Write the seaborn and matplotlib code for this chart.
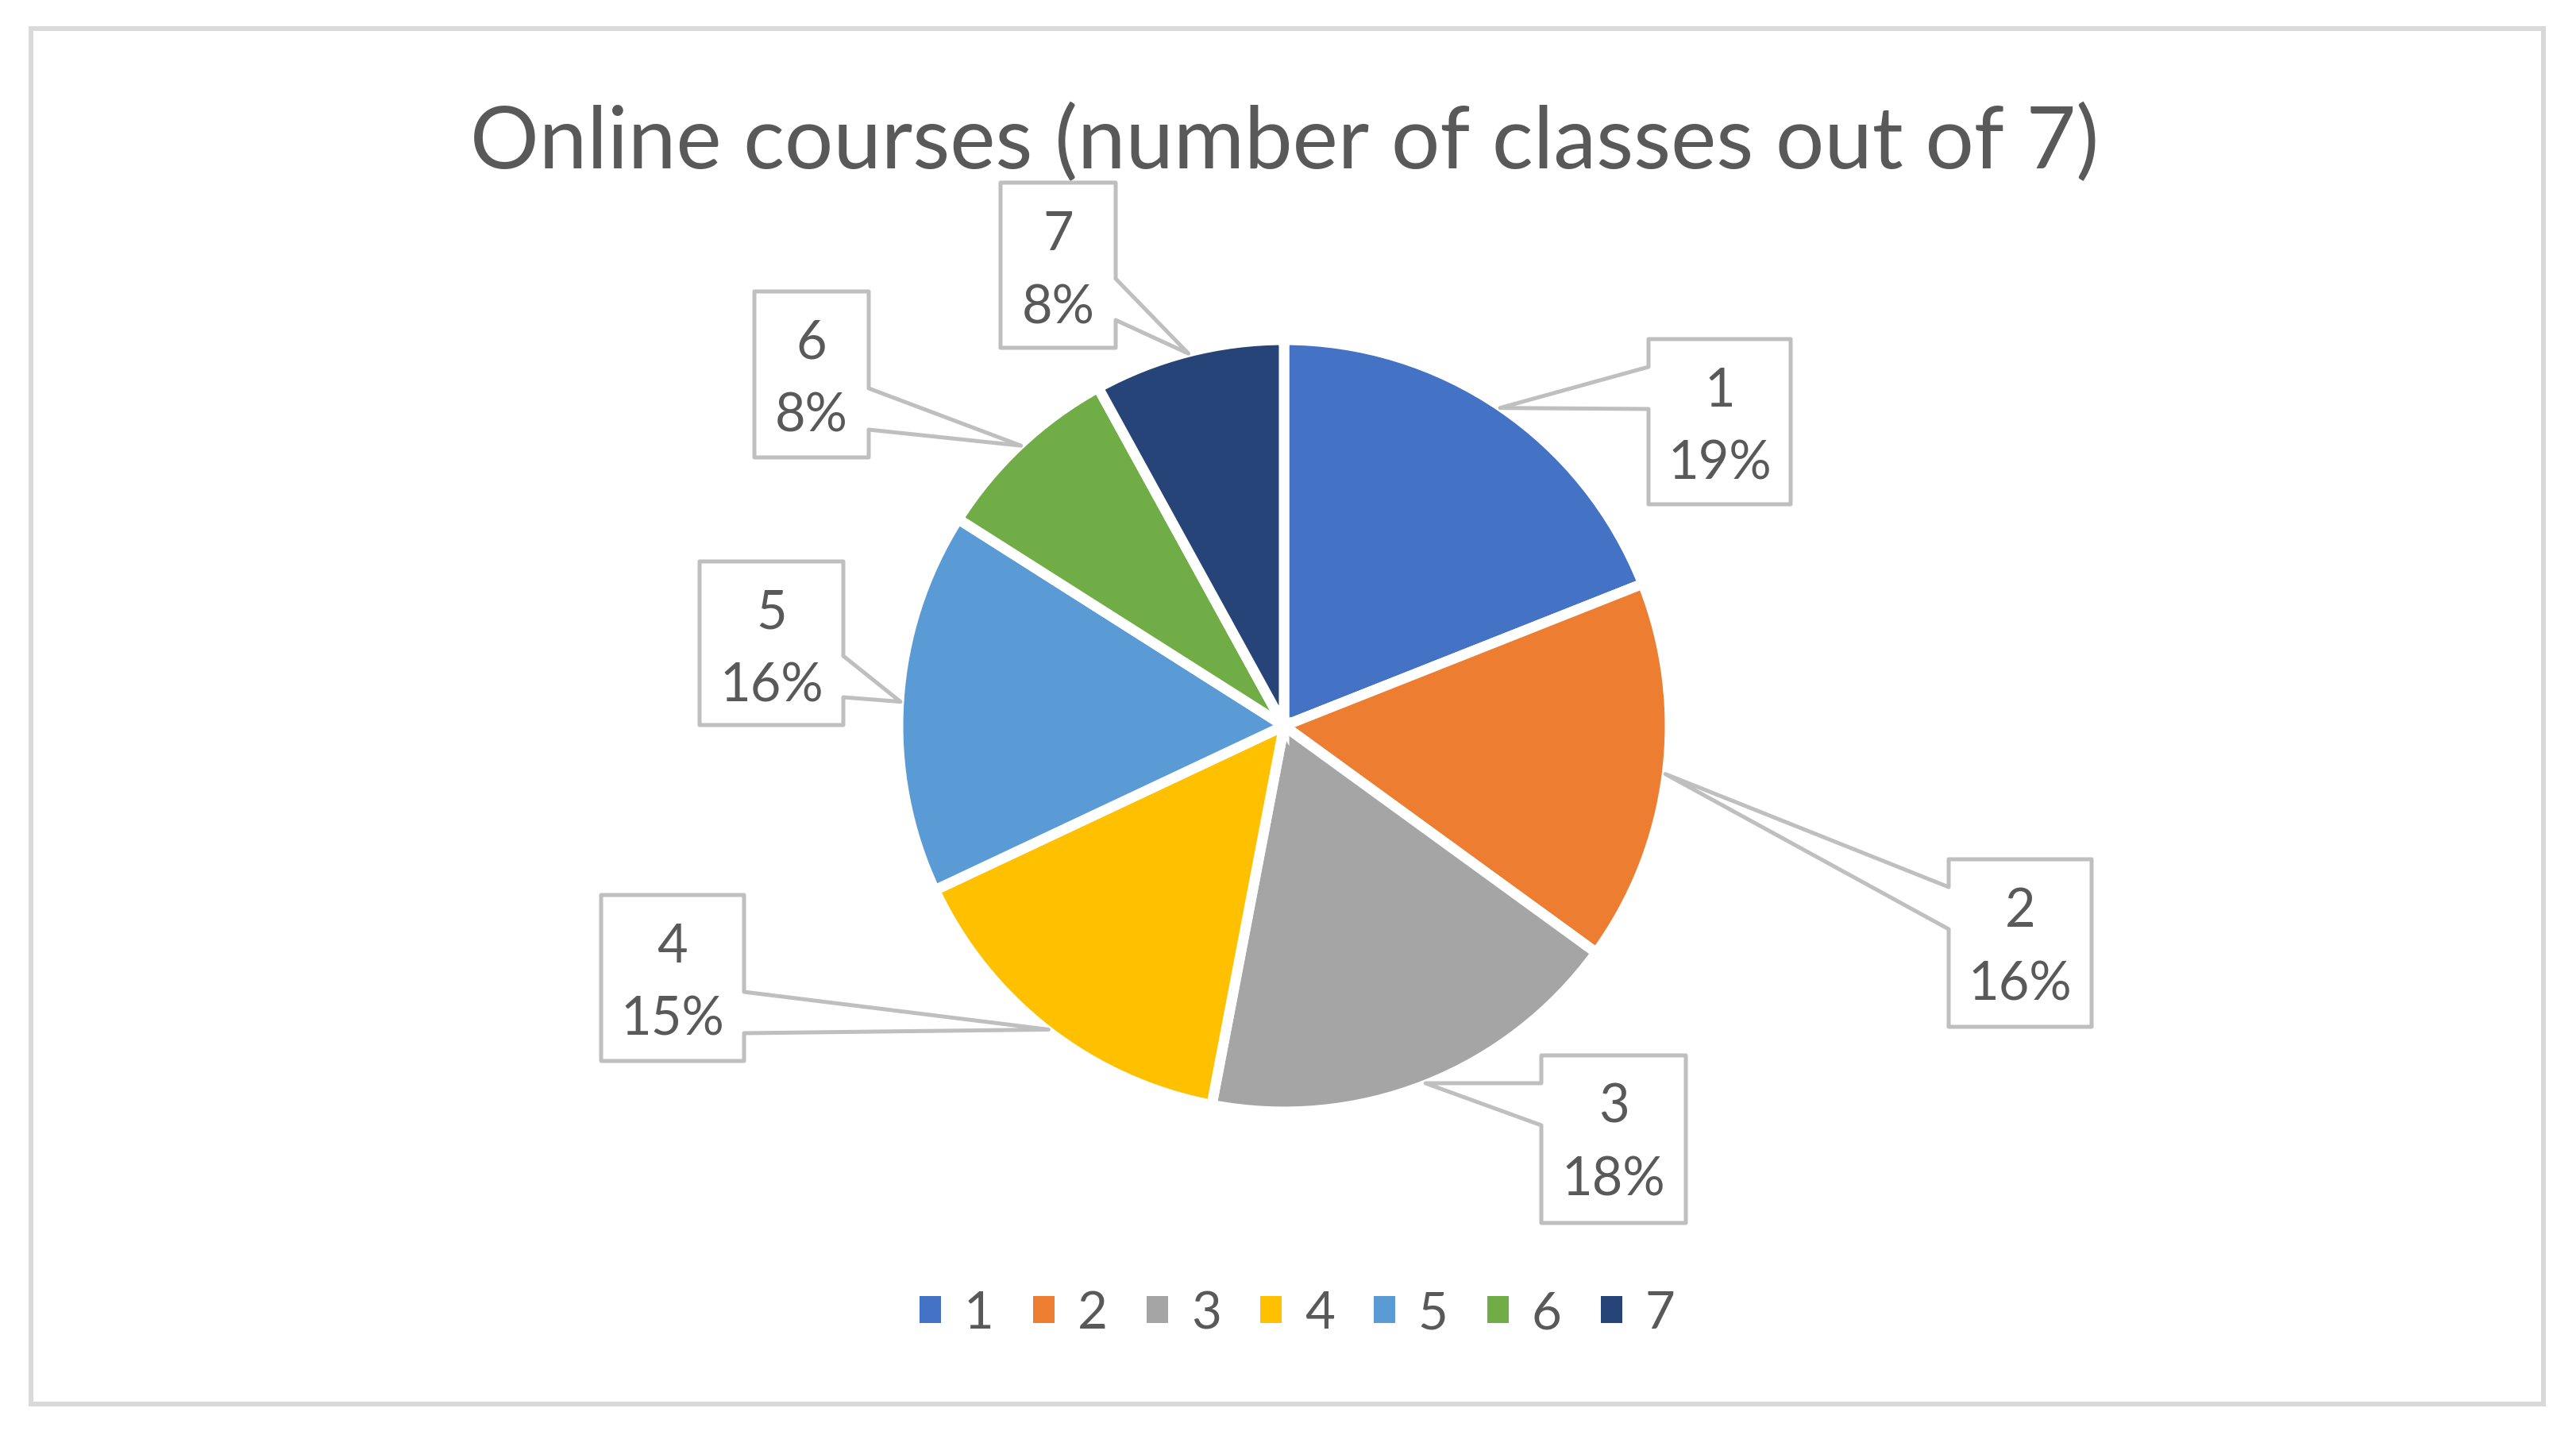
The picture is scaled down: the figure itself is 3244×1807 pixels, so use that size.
import seaborn as sns
import matplotlib.pyplot as plt
from matplotlib.patches import Polygon, Rectangle, Patch
import numpy as np

# data
categories = ['1', '2', '3', '4', '5', '6', '7']
shares = [19, 16, 18, 15, 16, 8, 8]
pct_labels = ['19%', '16%', '18%', '15%', '16%', '8%', '8%']
title = 'Online courses (number of classes out of 7)'

office_colors = ['#4472C4', '#ED7D31', '#A5A5A5', '#FFC000', '#5B9BD5', '#70AD47', '#264478']

# callout boxes in picture pixels: left, top, right, bottom, side of leader, end of side
boxes = [
    (2076, 428, 2255, 636, 'l', 'top'),
    (2454, 1083, 2634, 1294, 'l', 'top'),
    (1941, 1330, 2123, 1541, 'l', 'top'),
    (757, 1128, 937, 1337, 'r', 'bottom'),
    (881, 708, 1062, 914, 'r', 'bottom'),
    (950, 368, 1094, 577, 'r', 'bottom'),
    (1260, 231, 1405, 439, 'r', 'bottom'),
]

W, H = 3244, 1808
sns.set_theme(style='white')
plt.rcParams['font.family'] = ['Lato', 'DejaVu Sans']
text_color = '#595959'
edge_gray = '#BFBFBF'


def Y(y):
    return H - y


fig = plt.figure(figsize=(W / 100, H / 100), dpi=100)
ax = fig.add_axes([0, 0, 1, 1])

cx, cy, R = 1617, 915, 486
palette = sns.color_palette(office_colors)
wedges, _ = ax.pie(shares, colors=palette, startangle=90, counterclock=False,
                   center=(cx, Y(cy)), radius=R,
                   wedgeprops=dict(edgecolor='white', linewidth=9.4))

ax.set_xlim(0, W)
ax.set_ylim(0, H)
ax.set_aspect('equal')
ax.axis('off')

# outer chart frame
ax.add_patch(Rectangle((39, Y(1769)), 3164, 1732, fill=False, edgecolor='#D9D9D9',
                       linewidth=4.3, zorder=1))

# callouts
for w, cat, pct, (x0, t, x1, b, side, end) in zip(wedges, categories, pct_labels, boxes):
    ang = np.deg2rad((w.theta1 + w.theta2) / 2)
    tip = (cx + (R - 2) * np.cos(ang), Y(cy) + (R - 2) * np.sin(ang))
    if end == 'top':
        a1, a2 = t + 35, t + 88
    else:
        a1, a2 = b - 87, b - 35
    if side == 'l':
        pts = [(x0, t), (x1, t), (x1, b), (x0, b), (x0, a2)]
        pts = [(x, Y(y)) for x, y in pts] + [tip, (x0, Y(a1))]
    else:
        pts = [(x0, t), (x1, t), (x1, a1)]
        pts = [(x, Y(y)) for x, y in pts] + [tip] + [(x, Y(y)) for x, y in [(x1, a2), (x1, b), (x0, b)]]
    ax.add_patch(Polygon(pts, closed=True, facecolor='white', edgecolor=edge_gray,
                         linewidth=3.6, joinstyle='round', zorder=5))
    xm = (x0 + x1) / 2
    ax.text(xm, Y(t + 84), cat, ha='center', va='baseline', fontsize=48,
            color=text_color, zorder=6)
    ax.text(xm, Y(t + 176), pct, ha='center', va='baseline', fontsize=48,
            color=text_color, zorder=6)

ax.text(1618, Y(212), title, ha='center', va='baseline', fontsize=78, color=text_color)

handles = [Patch(facecolor=c, edgecolor='none') for c in palette]
fig.legend(handles, categories, loc='center', bbox_to_anchor=(1634 / W, 1 - 1655 / H),
           ncol=7, frameon=False, fontsize=47, handlelength=0.41, handleheight=0.41,
           handletextpad=0.44, columnspacing=0.76, labelcolor=text_color)

fig.savefig('out.png', dpi=100, facecolor='white')
